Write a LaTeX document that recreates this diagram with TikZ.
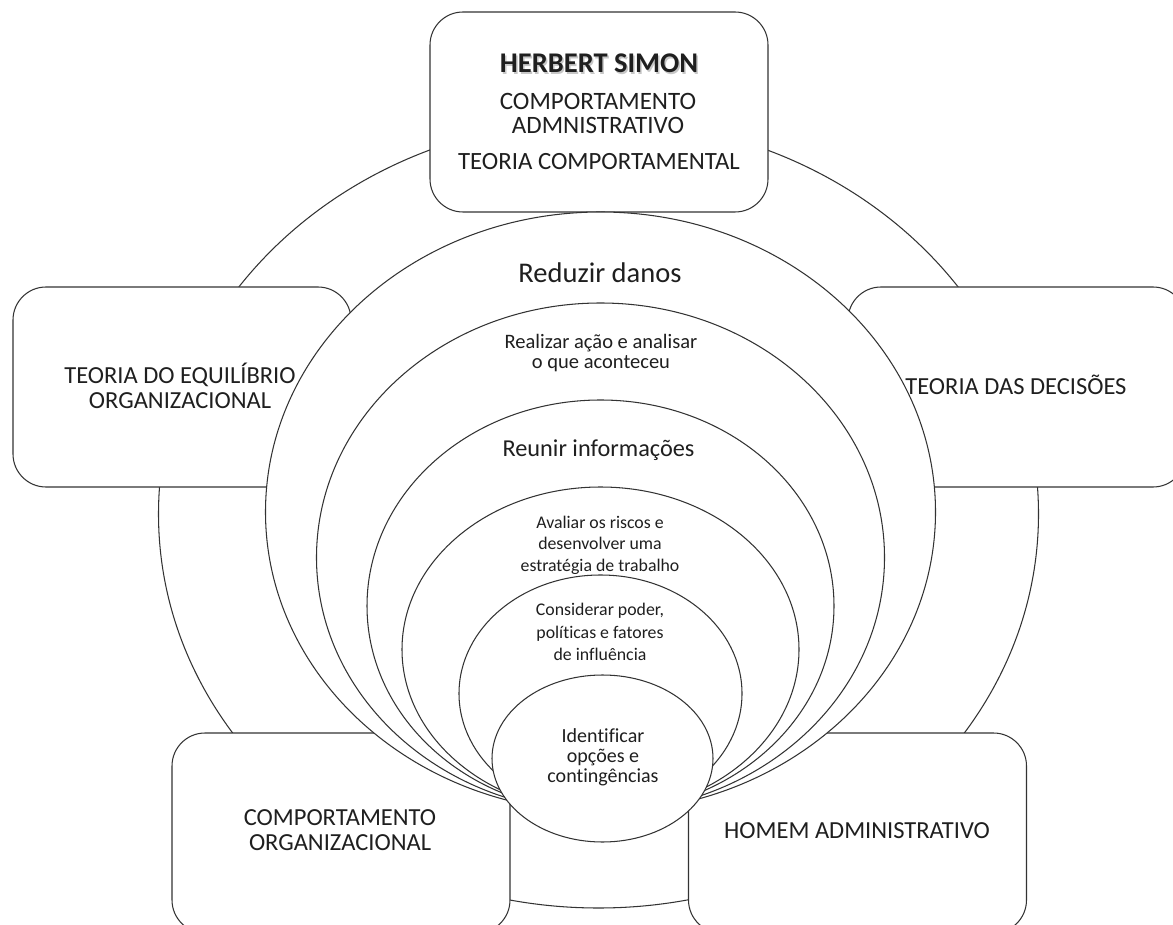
\documentclass[tikz,border=0pt]{standalone}
\usepackage{fontspec}
\setmainfont[Ligatures=NoCommon]{Carlito}
\newcommand\setfs[2]{\fontsize{#1}{#2}\selectfont}
\begin{document}
\begin{tikzpicture}[x=1pt,y=-1pt,
  line/.style={draw=black!80, line width=1.05pt},
  box/.style={line, fill=white, rounded corners=33pt, minimum width=338pt, minimum height=200pt, inner sep=0pt},
  ring/.style={line, fill=white},
  lbl/.style={text=black!88, align=center, inner sep=0pt},
  ]
\useasboundingbox (0,0) rectangle (1173,925);
\clip (0,0) rectangle (1173,925);
\fill[white] (0,0) rectangle (1173,925);

% outer ring linking the five theme boxes
\draw[line] (598.5,514) ellipse [x radius=440pt, y radius=394pt];

% theme boxes
\node[box] (top)   at (599,112)    {};
\node[box] (left)  at (182,387)    {};
\node[box] (right) at (1017,387)   {};
\node[box] (bl)    at (341,833)    {};
\node[box] (br)    at (857.5,833)  {};

% stacked decision steps, largest first
\draw[ring] (600.5,512)   ellipse [x radius=335pt,   y radius=300pt];
\draw[ring] (600.5,557.5) ellipse [x radius=284pt,   y radius=254.5pt];
\draw[ring] (600.5,606)   ellipse [x radius=233.5pt, y radius=206pt];
\draw[ring] (600.5,649.5) ellipse [x radius=198.5pt, y radius=162.5pt];
\draw[ring] (600.5,693.5) ellipse [x radius=141.5pt, y radius=118.5pt];
\draw[ring] (602.5,758.5) ellipse [x radius=110.5pt, y radius=83.5pt];

% box labels
\node[lbl, text=black!40, opacity=.55, font=\setfs{28.5}{34}\bfseries] (hsshade) at (600.5,65) {HERBERT SIMON};
\node[lbl, font=\setfs{28.5}{34}\bfseries] (hs) at (599,63) {HERBERT SIMON};
\node[lbl, font=\setfs{25}{23.5}] (ca) at (598,113.5) {COMPORTAMENTO\\ADMNISTRATIVO};
\node[lbl, font=\setfs{24.8}{29}] (tc) at (599,162) {TEORIA COMPORTAMENTAL};
\node[lbl, font=\setfs{24.5}{25}] (teo) at (180,385.5) {TEORIA DO EQUILÍBRIO\\ORGANIZACIONAL};
\node[lbl, font=\setfs{24.5}{29}] (tdd) at (1016,385) {TEORIA DAS DECISÕES};
\node[lbl, font=\setfs{24.5}{25}] (co) at (340,830.5) {COMPORTAMENTO\\ORGANIZACIONAL};
\node[lbl, font=\setfs{24.5}{29}] (ha) at (857,831) {HOMEM ADMINISTRATIVO};

% step labels
\node[lbl, font=\setfs{28.5}{34}] (s1) at (600,273) {Reduzir danos};
\node[lbl, font=\setfs{20.5}{20.5}] (s2) at (601,353) {Realizar ação e analisar\\o que aconteceu};
\node[lbl, font=\setfs{24.3}{28}] (s3) at (598.5,450) {Reunir informações};
\node[lbl, font=\setfs{17.8}{21.5}] (s4) at (600,545) {Avaliar os riscos e\\desenvolver uma\\estratégia de trabalho};
\node[lbl, font=\setfs{17.8}{22.5}] (s5) at (600,632) {Considerar poder,\\políticas e fatores\\de influência};
\node[lbl, font=\setfs{20}{20}] (s6) at (603,757) {Identificar\\opções e\\contingências};
\end{tikzpicture}
\end{document}
